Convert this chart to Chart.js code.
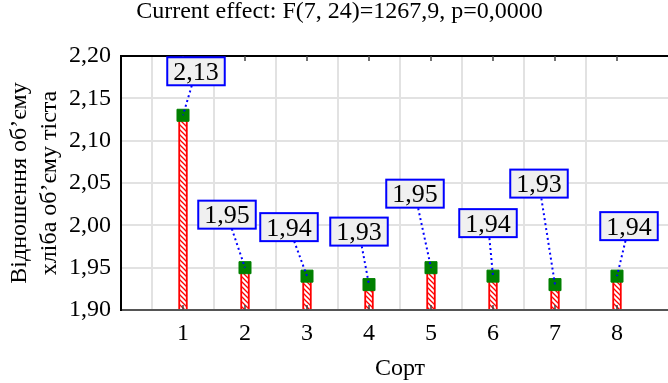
<!DOCTYPE html>
<html>
<head>
<meta charset="utf-8">
<script src="https://cdn.jsdelivr.net/npm/chart.js@4/dist/chart.umd.min.js"></script>
<style>
html,body{margin:0;padding:0;background:#fff;overflow:hidden;}
#wrap{width:690px;height:383px;}
</style>
</head>
<body>
<div id="wrap"><canvas id="chart" width="690" height="383"></canvas></div>
<script>
const sorts=['1','2','3','4','5','6','7','8'];
const values=[2.13,1.95,1.94,1.93,1.95,1.94,1.93,1.94];
const yMin=1.90, yMax=2.20, yStep=0.05;
const titleText='Current effect: F(7, 24)=1267,9, p=0,0000';
const yTitle=['Відношення об’єму','хліба об’єму тіста'];
const xTitle='Сорт';
// label box offset from its marker, px
const labelOffsets=[[13,-44],[-18,-53],[-18,-49],[-10,-53],[-16,-74],[-5,-53],[-16,-101],[12,-50]];

const serif='"Liberation Serif","Times New Roman",serif';
const fmt=(v,d)=>v.toFixed(d).replace('.',',');

function hatch(){
    const c=document.createElement('canvas');
    c.width=5;c.height=5;
    const g=c.getContext('2d');
    g.fillStyle='#fff';g.fillRect(0,0,5,5);
    g.strokeStyle='#ff0000';g.lineWidth=1.3;
    g.beginPath();
    g.moveTo(-1,-1);g.lineTo(6,6);
    g.moveTo(-1,4);g.lineTo(1,6);
    g.moveTo(4,-1);g.lineTo(6,1);
    g.stroke();
    return g.createPattern(c,'repeat');
}

const points=sorts.map((s,i)=>({x:i+1,y:values[i]}));

const annot={
    id:'annot',
    afterDatasetsDraw(chart){
        const {ctx,chartArea:a,scales:{x,y}}=chart;
        ctx.save();
        ctx.strokeStyle='#000';ctx.lineWidth=2;
        ctx.beginPath();ctx.moveTo(a.left-1,a.top);ctx.lineTo(a.right,a.top);ctx.stroke();
        ctx.strokeStyle='#444';ctx.lineWidth=1.5;
        sorts.forEach((s,i)=>{
            const px=x.getPixelForValue(i+1);
            ctx.beginPath();
            ctx.moveTo(px,a.top);ctx.lineTo(px,a.top+5);
            ctx.moveTo(px,a.bottom);ctx.lineTo(px,a.bottom-5);
            ctx.stroke();
        });
        ctx.font='26px '+serif;
        values.forEach((v,i)=>{
            const px=x.getPixelForValue(i+1), py=y.getPixelForValue(v);
            const cx=px+labelOffsets[i][0], cy=py+labelOffsets[i][1];
            ctx.setLineDash([2,3]);
            ctx.strokeStyle='#0000ff';ctx.lineWidth=2;
            ctx.beginPath();ctx.moveTo(cx,cy);ctx.lineTo(px,py);ctx.stroke();
            ctx.setLineDash([]);
            const txt=fmt(v,2);
            const w=ctx.measureText(txt).width+12, h=28;
            ctx.fillStyle='#f0f0f0';
            ctx.fillRect(cx-w/2,cy-h/2,w,h);
            ctx.strokeRect(cx-w/2,cy-h/2,w,h);
            ctx.fillStyle='#000';ctx.textAlign='center';ctx.textBaseline='alphabetic';
            ctx.fillText(txt,cx,cy+8.5);
        });
        ctx.restore();
    }
};

new Chart(document.getElementById('chart'),{
    type:'bar',
    data:{
        datasets:[
            {type:'scatter',data:points,pointStyle:'rect',pointRadius:8.5,pointBorderWidth:1,
             backgroundColor:'#008000',borderColor:'#008000',order:1},
            {type:'bar',data:points,base:yMin,barThickness:9,borderWidth:2,borderColor:'#ff0000',
             backgroundColor:hatch(),order:2}
        ]
    },
    options:{
        responsive:false,
        animation:false,
        events:[],
        layout:{padding:{left:0,right:11,top:0,bottom:0}},
        plugins:{
            legend:{display:false},
            tooltip:{enabled:false},
            title:{display:true,text:titleText,color:'#000',
                   font:{family:serif,size:24,weight:'normal',lineHeight:1},
                   padding:{top:0,bottom:32}}
        },
        scales:{
            x:{type:'linear',min:0,max:9,offset:false,
               afterFit:s=>{s.height=73;},
               grid:{color:c=>(c.tick&&sorts[c.tick.value-1])?'#e2e2e2':'rgba(0,0,0,0)',lineWidth:2,drawTicks:false},
               border:{color:'#555',width:2},
               ticks:{stepSize:1,autoSkip:false,padding:9,color:'#000',
                      font:{family:serif,size:24,lineHeight:1.2},
                      callback:v=>sorts[v-1]||''},
               title:{display:true,text:xTitle,color:'#000',
                      font:{family:serif,size:24,lineHeight:1.2},
                      padding:{top:6,bottom:0}}},
            y:{min:yMin,max:yMax,
               afterFit:s=>{s.width=121;},
               grid:{color:'#e2e2e2',lineWidth:2,drawTicks:false},
               border:{color:'#000',width:2},
               ticks:{stepSize:yStep,padding:10,color:'#000',
                      font:{family:serif,size:24},
                      callback:v=>fmt(v,2)},
               title:{display:true,text:yTitle,color:'#000',
                      font:{family:serif,size:24,lineHeight:1.25},
                      padding:{top:5,bottom:4}}}
        }
    },
    plugins:[annot]
});
</script>
</body>
</html>
